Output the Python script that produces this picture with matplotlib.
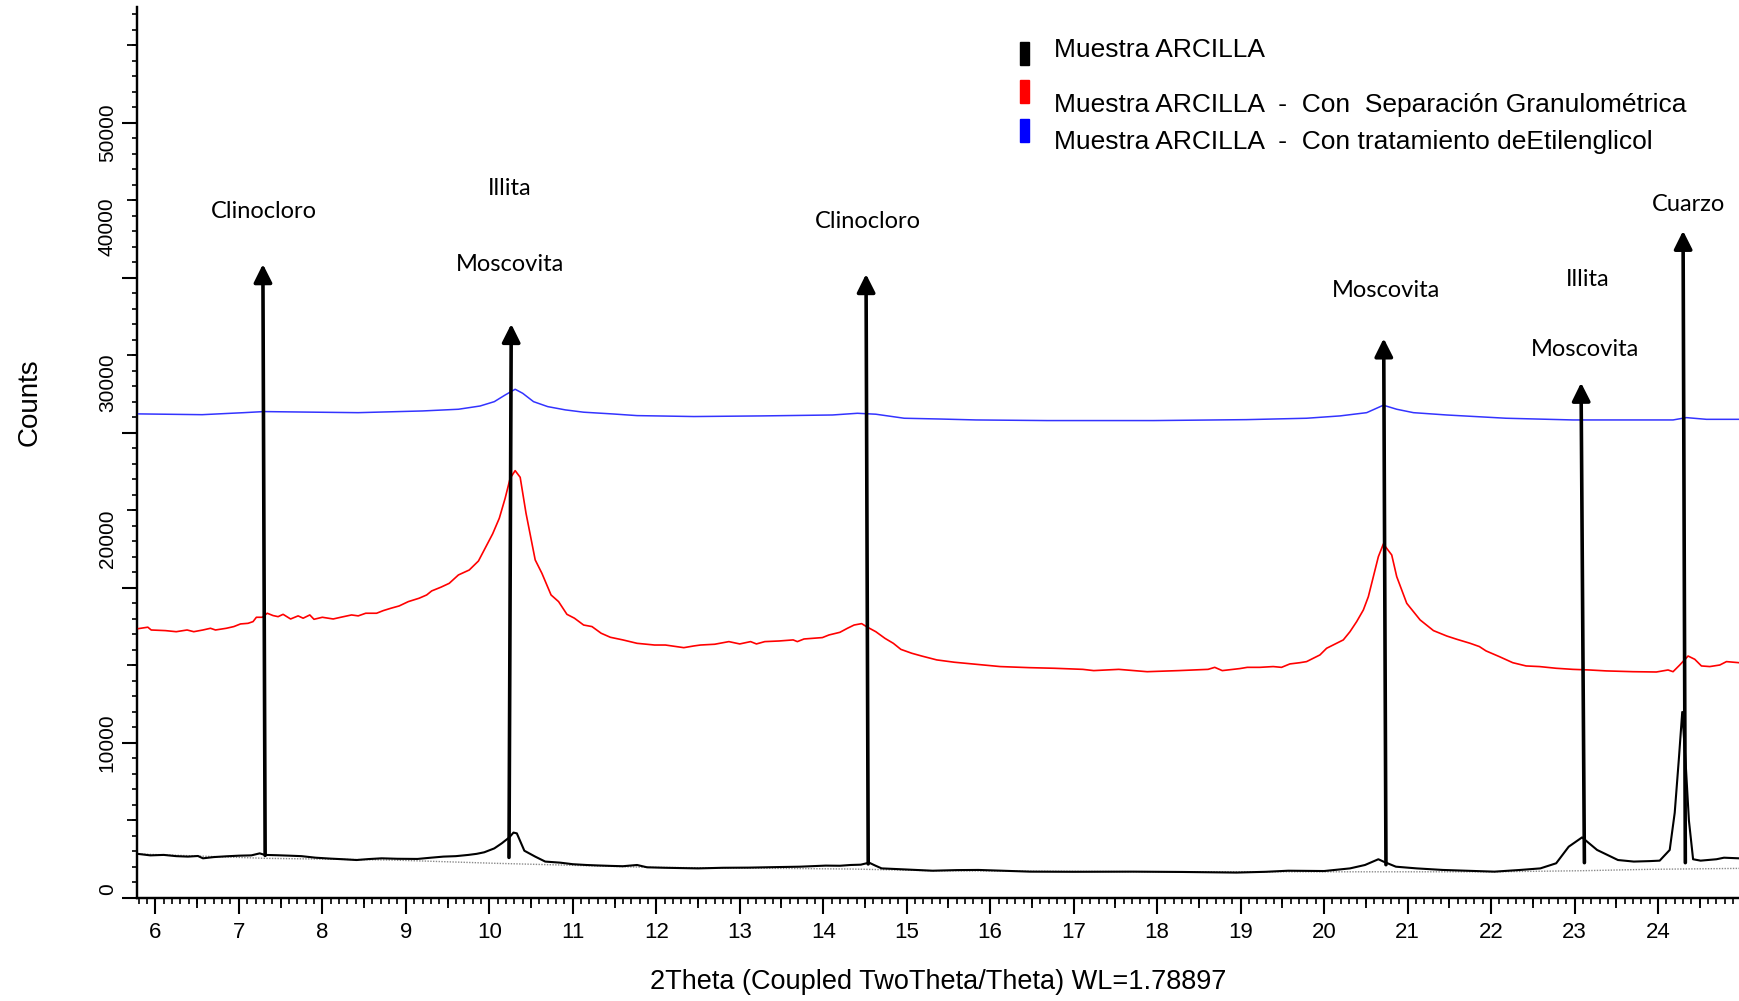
import numpy as np
import matplotlib.pyplot as plt
from matplotlib.patches import Rectangle

# difractograma - muestra de arcilla (tres tratamientos)

# Muestra ARCILLA (sin tratamiento)
x_negro = [5.80, 5.94, 6.10, 6.25, 6.39, 6.51, 6.57, 6.70, 6.85, 7.00, 7.15, 7.25, 7.31, 7.45,
           7.61, 7.75, 7.92, 8.10, 8.25, 8.41, 8.55, 8.71, 8.90, 9.14, 9.30, 9.45, 9.60, 9.75,
           9.85, 9.94, 10.06, 10.15, 10.24, 10.29, 10.33, 10.42, 10.55, 10.67, 10.85, 11.00,
           11.16, 11.30, 11.46, 11.60, 11.77, 11.89, 12.10, 12.50, 12.80, 13.11, 13.40, 13.72,
           14.03, 14.20, 14.33, 14.45, 14.55, 14.62, 14.70, 14.95, 15.31, 15.60, 15.86, 16.20,
           16.48, 17.00, 17.71, 18.30, 18.95, 19.30, 19.57, 20.00, 20.31, 20.49, 20.65, 20.71,
           20.86, 21.11, 21.42, 21.70, 22.04, 22.35, 22.59, 22.78, 22.93, 23.09, 23.27, 23.52,
           23.71, 23.90, 24.02, 24.14, 24.20, 24.25, 24.29, 24.33, 24.37, 24.42, 24.51, 24.70,
           24.79, 24.97]
y_negro = [2840, 2750, 2780, 2700, 2670, 2710, 2560, 2640, 2690, 2730, 2750, 2880, 2780, 2760,
           2730, 2700, 2600, 2540, 2500, 2450, 2510, 2560, 2530, 2520, 2600, 2670, 2700, 2780,
           2850, 2950, 3200, 3530, 3910, 4220, 4170, 3050, 2670, 2350, 2280, 2180,
           2130, 2100, 2070, 2050, 2130, 1980, 1950, 1910, 1950, 1960, 1990, 2020,
           2090, 2080, 2130, 2150, 2280, 2100, 1910, 1850, 1760, 1800, 1810, 1750,
           1700, 1690, 1700, 1680, 1640, 1690, 1760, 1740, 1910, 2130, 2500, 2350,
           2020, 1910, 1810, 1760, 1700, 1810, 1910, 2240, 3310, 3910, 3100, 2450,
           2350, 2380, 2410, 3100, 5500, 9000, 12000, 8800, 5000, 2500, 2410, 2500,
           2600, 2560]

# fondo del difractograma sin tratamiento
x_fondo = [5.80, 7.31, 8.83, 10.06, 10.85, 11.89, 14.33, 15.31, 17.71, 20.00, 22.04, 23.09, 23.90, 24.97]
y_fondo = [2840, 2560, 2450, 2240, 2130, 1980, 1870, 1760, 1700, 1690, 1690, 1760, 1850, 1910]

# Con separación granulométrica
x_rojo = [5.80, 5.91, 5.95, 6.12, 6.25, 6.38, 6.46, 6.57, 6.66, 6.72, 6.85, 6.94, 7.02, 7.11,
          7.17, 7.21, 7.28, 7.34, 7.41, 7.47, 7.53, 7.62, 7.71, 7.77, 7.85, 7.90, 8.00, 8.13,
          8.22, 8.35, 8.43, 8.52, 8.65, 8.73, 8.82, 8.92, 9.03, 9.16, 9.25, 9.31, 9.42, 9.52,
          9.63, 9.76, 9.87, 9.95, 10.04, 10.12, 10.19, 10.25, 10.31, 10.37, 10.44, 10.55,
          10.63, 10.74, 10.83, 10.93, 11.02, 11.13, 11.23, 11.34, 11.45, 11.60, 11.77, 11.98,
          12.11, 12.24, 12.33, 12.45, 12.53, 12.70, 12.87, 13.00, 13.13, 13.20, 13.30, 13.47,
          13.64, 13.69, 13.77, 13.99, 14.07, 14.20, 14.29, 14.37, 14.46, 14.53, 14.63, 14.74,
          14.84, 14.93, 15.06, 15.18, 15.36, 15.57, 15.83, 16.12, 16.47, 16.77, 17.11, 17.24,
          17.54, 17.88, 18.26, 18.61, 18.69, 18.78, 18.99, 19.08, 19.23, 19.39, 19.49, 19.59,
          19.71, 19.79, 19.95, 20.03, 20.15, 20.23, 20.31, 20.39, 20.47, 20.53, 20.59, 20.65,
          20.71, 20.81, 20.87, 20.99, 21.15, 21.31, 21.47, 21.59, 21.75, 21.86, 21.94, 22.10,
          22.26, 22.42, 22.58, 22.78, 22.98, 23.18, 23.38, 23.70, 23.98, 24.12, 24.18, 24.26,
          24.36, 24.44, 24.52, 24.62, 24.74, 24.82, 24.97]
y_rojo = [17380, 17470, 17290, 17250, 17180, 17290, 17180, 17290, 17400, 17290, 17400, 17510, 17680, 17720,
          17830, 18110, 18110, 18370, 18220, 18150, 18300, 18000, 18200, 18050, 18260, 17980, 18110, 18000,
          18110, 18260, 18200, 18370, 18370, 18540, 18690, 18840, 19120, 19340, 19550, 19810, 20050, 20300,
          20840, 21160, 21740, 22560, 23490, 24500, 25790, 27080, 27570, 27140, 24820, 21810,
          20950, 19550, 19120, 18300, 18050, 17610, 17510, 17080, 16820, 16650, 16430, 16320,
          16320, 16220, 16150, 16260, 16320, 16370, 16540, 16390, 16540, 16390, 16540, 16580,
          16650, 16540, 16710, 16800, 16970, 17140, 17400, 17610, 17700, 17470, 17180, 16750,
          16430, 16040, 15790, 15610, 15360, 15210, 15080, 14930, 14860, 14820, 14750, 14670,
          14750, 14600, 14670, 14750, 14880, 14670, 14800, 14880, 14880, 14930, 14880, 15100,
          15180, 15250, 15680, 16110, 16430, 16650, 17180, 17830, 18580, 19440, 20730, 22020,
          22840, 22130, 20730, 19010, 17940, 17250, 16900, 16690, 16430, 16220, 15940, 15570,
          15180, 14970, 14930, 14820, 14750, 14710, 14650, 14600, 14580, 14710, 14600, 15030,
          15610, 15400, 14970, 14930, 15030, 15250, 15180]

# Con tratamiento de etilenglicol
x_azul = [5.80, 6.56, 7.06, 7.30, 7.92, 8.43, 9.20, 9.63, 9.89, 10.06, 10.19, 10.31, 10.40, 10.53,
          10.70, 10.91, 11.13, 11.47, 11.77, 12.45, 13.26, 14.11, 14.41, 14.63, 14.97, 15.40, 15.83,
          16.68, 17.96, 19.07, 19.79, 20.19, 20.51, 20.71, 20.87, 21.07, 21.47, 22.18, 22.98, 24.18,
          24.34, 24.58, 24.97]
y_azul = [31230, 31180, 31310, 31380, 31340, 31310, 31420, 31530, 31740, 32020, 32450, 32820, 32560, 32020,
          31700, 31490, 31340, 31230, 31120, 31060, 31100, 31160, 31270, 31210, 30950, 30900, 30840,
          30800, 30800, 30860, 30950, 31100, 31310, 31790, 31530, 31310, 31160, 30950, 30840, 30840,
          30990, 30880, 30880]

# identificación de fases: posición de la flecha (abajo, arriba) y altura
fase_x_base = [7.315, 10.236, 14.539, 20.741, 23.118, 24.327]
fase_x_punta = [7.288, 10.263, 14.513, 20.714, 23.078, 24.300]
fase_y_base = [2750, 2620, 2200, 2150, 2280, 2280]
fase_y_punta = [40890, 37030, 40250, 36100, 33240, 43040]

fase_nombres = ['Clinocloro', 'Illita', 'Moscovita', 'Clinocloro', 'Moscovita', 'Illita', 'Moscovita', 'Cuarzo']
fase_nombres_x = [7.30, 10.24, 10.25, 14.54, 20.74, 23.16, 23.12, 24.37]
fase_nombres_y = [44260, 45760, 40890, 43610, 39180, 39900, 35390, 44750]

# etiquetas del eje y (tal como aparecen en el gráfico)
y_etiquetas = ['0', '10000', '20000', '30000', '40000', '50000']
y_etiquetas_pos = [580, 10000, 23160, 33230, 43290, 49350]

leyenda = ['Muestra ARCILLA',
           'Muestra ARCILLA  -  Con  Separación Granulométrica',
           'Muestra ARCILLA  -  Con tratamiento deEtilenglicol']
leyenda_colores = ['black', '#ff0000', '#0000ff']

W, H = 1739, 1001


def fig_xy(px, py):
    return px / W, 1 - py / H


fig = plt.figure(figsize=(W / 100, H / 100), dpi=100)
ax = fig.add_axes([137 / W, 1 - 898 / H, 1 - 137 / W, (898 - 7) / H])

ax.plot(x_fondo, y_fondo, color='#8a8a8a', lw=1.0, ls=(0, (1, 1)), zorder=2)
ax.plot(x_negro, y_negro, color='black', lw=1.5, zorder=3)
ax.plot(x_rojo, y_rojo, color='#ff0000', lw=1.2, zorder=3)
ax.plot(x_azul, y_azul, color='#3333ff', lw=1.1, zorder=3)

for xb, xt, yb, yt in zip(fase_x_base, fase_x_punta, fase_y_base, fase_y_punta):
    ax.annotate('', xy=(xt, yt), xytext=(xb, yb),
                arrowprops=dict(arrowstyle='-|>,head_length=0.5,head_width=0.25',
                                lw=2.6, color='black', mutation_scale=22,
                                shrinkA=0, shrinkB=0),
                zorder=4)

for nombre, xn, yn in zip(fase_nombres, fase_nombres_x, fase_nombres_y):
    ax.text(xn, yn, nombre, ha='center', va='center', fontsize=17, family='Lato')

ax.set_xlim(5.78, 24.97)
ax.set_ylim(0, 57480)

for s in ['top', 'right']:
    ax.spines[s].set_visible(False)
for s in ['left', 'bottom']:
    ax.spines[s].set_linewidth(1.6)

# eje x: marcas cada 1, 0.5 y 0.1
ax.set_xticks(np.arange(6, 25, 1))
ax.set_xticks(np.arange(5.8, 25.0, 0.1), minor=True)
ax.tick_params(axis='x', which='major', length=11.5, width=1.5, pad=5.5,
               labelsize=16, labelfontfamily='Liberation Sans')
ax.tick_params(axis='x', which='minor', length=4, width=1.2)
secx = ax.secondary_xaxis('bottom')
secx.set_xticks(np.arange(6.5, 25, 1))
secx.tick_params(length=7, width=1.3, labelbottom=False)
secx.spines['bottom'].set_linewidth(1.6)

# eje y: marcas cada 10000, 5000 y 1000
ax.set_yticks(np.arange(0, 57000, 10000))
ax.set_yticks(np.arange(0, 57500, 1000), minor=True)
ax.tick_params(axis='y', which='major', length=11, width=1.5, labelleft=False)
ax.tick_params(axis='y', which='minor', length=3.6, width=1.2)
secy = ax.secondary_yaxis('left')
secy.set_yticks(np.arange(5000, 57500, 10000))
secy.tick_params(length=7, width=1.3, labelleft=False)
secy.spines['left'].set_linewidth(1.6)
secy_lab = ax.secondary_yaxis('left')
secy_lab.set_yticks(y_etiquetas_pos, labels=y_etiquetas)
secy_lab.tick_params(length=0, pad=14.5, labelsize=15, labelfontfamily='Liberation Sans')
secy_lab.spines['left'].set_visible(False)
for t in secy_lab.get_yticklabels():
    t.set_rotation(90)
    t.set_va('center')

ax.set_xlabel('2Theta (Coupled TwoTheta/Theta) WL=1.78897', fontsize=19.5, family='Liberation Sans')
ax.xaxis.set_label_coords(0.5, -0.080)
ax.set_ylabel('Counts', fontsize=20, family='Liberation Sans')
ax.yaxis.set_label_coords((43 - 137) / (W - 137), (898 - 402) / 891)

# leyenda
leyenda_y_marca = [53, 91, 130]
leyenda_y_texto = [50, 105, 142]
for txt, col, ym, yt in zip(leyenda, leyenda_colores, leyenda_y_marca, leyenda_y_texto):
    x0, y0 = fig_xy(1020, ym + 12)
    fig.patches.append(Rectangle((x0, y0), 9 / W, 23 / H, transform=fig.transFigure,
                                 color=col, zorder=5))
    tx, ty = fig_xy(1054, yt)
    fig.text(tx, ty, txt, ha='left', va='center', fontsize=19, family='Liberation Sans')

plt.savefig('out.png', dpi=100)
